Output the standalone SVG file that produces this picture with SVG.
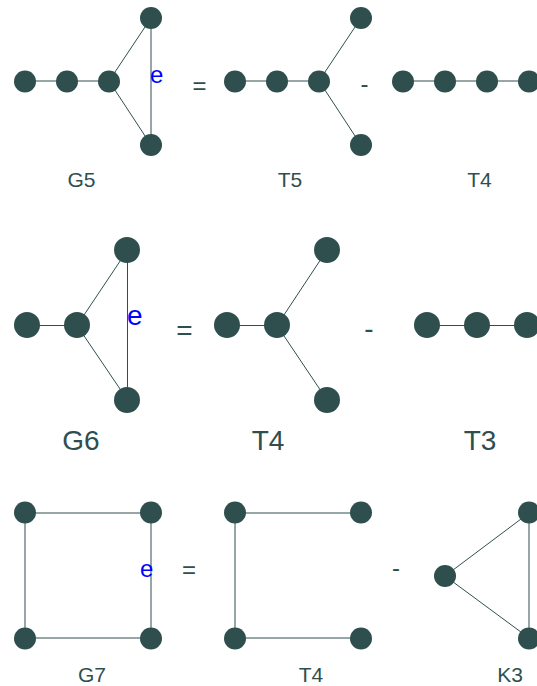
<svg xmlns="http://www.w3.org/2000/svg" width="537" height="686" viewBox="0 0 537 686">
<style>
.n{fill:#2f4f4f}
.e{stroke:#2f4f4f;stroke-width:1;fill:none}
.lbl{font-family:"Liberation Sans",Arial,sans-serif;fill:#2f4f4f;text-anchor:middle}
.op{font-family:"Liberation Sans",Arial,sans-serif;fill:#2f4f4f;text-anchor:middle}
.el{font-family:"Liberation Sans",Arial,sans-serif;fill:#0000ff}
.s1{font-size:21px}
.s2{font-size:28px}
.o1{font-size:24px}
</style>
<rect width="537" height="686" fill="#ffffff"/>
<g id="connectors">
  <path class="e" d="M25 81H109M109 81L151 18M109 81L151 145M151 18V145"/>
  <path class="e" d="M235 81H319M319 81L361 18M319 81L361 145"/>
  <path class="e" d="M403 81H529"/>
  <path class="e" d="M27 325.5H77M77 325.5L127.5 250M77 325.5L127.5 400M127.5 250V400"/>
  <path class="e" d="M227 325.5H277M277 325.5L327 250M277 325.5L327 400"/>
  <path class="e" d="M427 325.5H527"/>
  <path class="e" d="M25 513H151V638H25Z"/>
  <path class="e" d="M361 513H235V638H361"/>
  <path class="e" d="M445 576L529 513M445 576L529 638M529 513V638"/>
</g>
<g id="G5">
  <circle class="n" cx="25" cy="81.5" r="11"/>
  <circle class="n" cx="67" cy="81.5" r="11"/>
  <circle class="n" cx="109" cy="81.5" r="11"/>
  <circle class="n" cx="151" cy="18" r="11"/>
  <circle class="n" cx="151" cy="145" r="11"/>
  <text class="el o1" x="150" y="83">e</text>
  <text class="lbl s1" x="81.5" y="187">G5</text>
</g>
<g id="T5">
  <circle class="n" cx="235" cy="81.5" r="11"/>
  <circle class="n" cx="277" cy="81.5" r="11"/>
  <circle class="n" cx="319" cy="81.5" r="11"/>
  <circle class="n" cx="361" cy="18" r="11"/>
  <circle class="n" cx="361" cy="145" r="11"/>
  <text class="lbl s1" x="290" y="187">T5</text>
</g>
<g id="T4a">
  <circle class="n" cx="403" cy="81.5" r="11"/>
  <circle class="n" cx="445" cy="81.5" r="11"/>
  <circle class="n" cx="487" cy="81.5" r="11"/>
  <circle class="n" cx="529" cy="81.5" r="11"/>
  <text class="lbl s1" x="479.5" y="187">T4</text>
</g>
<g id="ops1">
  <text class="op o1" x="199.5" y="94">=</text>
  <text class="op o1" x="364.5" y="92">-</text>
</g>
<g id="G6">
  <circle class="n" cx="27" cy="325" r="13"/>
  <circle class="n" cx="77" cy="325" r="13"/>
  <circle class="n" cx="127" cy="250" r="13"/>
  <circle class="n" cx="127" cy="400" r="13"/>
  <text class="el s2" x="127" y="325">e</text>
  <text class="lbl s2" x="81" y="450">G6</text>
</g>
<g id="T4b">
  <circle class="n" cx="227" cy="325" r="13"/>
  <circle class="n" cx="277" cy="325" r="13"/>
  <circle class="n" cx="327" cy="250" r="13"/>
  <circle class="n" cx="327" cy="400" r="13"/>
  <text class="lbl s2" x="268" y="450">T4</text>
</g>
<g id="T3">
  <circle class="n" cx="427" cy="325" r="13"/>
  <circle class="n" cx="477" cy="325" r="13"/>
  <circle class="n" cx="527" cy="325" r="13"/>
  <text class="lbl s2" x="480" y="450">T3</text>
</g>
<g id="ops2">
  <text class="op s2" x="184.5" y="340">=</text>
  <text class="op s2" x="369" y="338">-</text>
</g>
<g id="G7">
  <circle class="n" cx="25" cy="512.5" r="11"/>
  <circle class="n" cx="151" cy="512.5" r="11"/>
  <circle class="n" cx="25" cy="638.5" r="11"/>
  <circle class="n" cx="151" cy="638.5" r="11"/>
  <text class="el o1" x="140" y="577">e</text>
  <text class="lbl s1" x="92" y="682">G7</text>
</g>
<g id="T4c">
  <circle class="n" cx="235" cy="512.5" r="11"/>
  <circle class="n" cx="361" cy="512.5" r="11"/>
  <circle class="n" cx="235" cy="638.5" r="11"/>
  <circle class="n" cx="361" cy="638.5" r="11"/>
  <text class="lbl s1" x="311" y="682">T4</text>
</g>
<g id="K3">
  <circle class="n" cx="445" cy="576" r="11"/>
  <circle class="n" cx="529" cy="512.5" r="11"/>
  <circle class="n" cx="529" cy="638.5" r="11"/>
  <text class="lbl s1" x="510" y="682">K3</text>
</g>
<g id="ops3">
  <text class="op o1" x="189" y="578">=</text>
  <text class="op o1" x="396" y="576">-</text>
</g>
</svg>
